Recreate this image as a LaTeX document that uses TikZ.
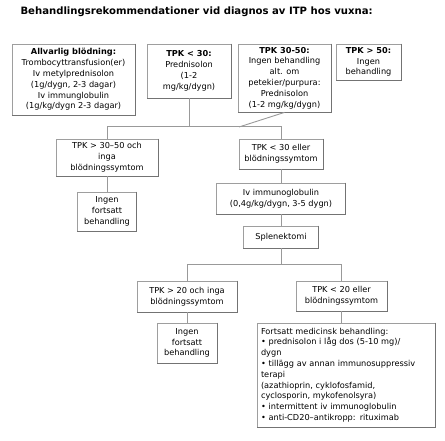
\documentclass[tikz,border=0pt]{standalone}
\usepackage{fontspec}
\setmainfont{DejaVu Sans}
\begin{document}
\begin{tikzpicture}[x=1pt,y=-1pt,
  bx/.style={draw=black!38, line width=0.8pt, fill=white, inner sep=0pt, align=center,
    font=\fontsize{8.2}{10.8}\selectfont},
  shad/.style={draw=black!55, line width=1.1pt},
  conn/.style={draw=black!40, line width=0.9pt}]
\useasboundingbox (0,0) rectangle (445,441);
\node[anchor=west, font=\fontsize{10.1}{12}\selectfont\bfseries] (title) at (17,12)
  {Behandlingsrekommendationer vid diagnos av ITP hos vuxna:};
% top row
\node[bx, minimum width=123pt, minimum height=71pt] (b1) at (73.5,79.5)
  {\textbf{Allvarlig blödning:}\\Trombocyttransfusion(er)\\Iv metylprednisolon\\(1g/dygn, 2-3 dagar)\\Iv immunglobulin\\(1g/kg/dygn 2-3 dagar)};
\node[bx, minimum width=84pt, minimum height=54pt] (b2) at (189,71)
  {\textbf{TPK < 30:}\\Prednisolon\\(1-2\\mg/kg/dygn)};
\node[bx, minimum width=93pt, minimum height=68pt] (b3) at (284.5,78)
  {\textbf{TPK 30-50:}\\Ingen behandling\\alt. om\\petekier/purpura:\\Prednisolon\\(1-2 mg/kg/dygn)};
\node[bx, minimum width=65pt, minimum height=36pt] (b4) at (368.5,62)
  {\textbf{TPK > 50:}\\Ingen\\behandling};
% second row
\node[bx, minimum width=102pt, minimum height=37pt] (c1) at (107,157.5)
  {TPK > 30–50 och\\inga\\blödningssymtom};
\node[bx, minimum width=59pt, minimum height=39pt] (c2) at (107,211.5)
  {Ingen\\fortsatt\\behandling};
\node[bx, minimum width=84pt, minimum height=30pt] (d1) at (281,154)
  {TPK < 30 eller\\blödningssymtom};
\node[bx, minimum width=129pt, minimum height=31pt] (d2) at (281,198.5)
  {Iv immunoglobulin\\(0,4g/kg/dygn, 3-5 dygn)};
\node[bx, minimum width=75pt, minimum height=22pt] (d3) at (281,237)
  {Splenektomi};
% lower rows
\node[bx, minimum width=100pt, minimum height=31pt] (e1) at (187,296.5)
  {TPK > 20 och inga\\blödningssymtom};
\node[bx, minimum width=91pt, minimum height=30pt] (e2) at (341.5,296)
  {TPK < 20 eller\\blödningssymtom};
\node[bx, minimum width=60pt, minimum height=40pt] (e3) at (187,343)
  {Ingen\\fortsatt\\behandling};
\node[bx, align=left, text width=170pt, inner xsep=4pt, minimum height=104pt] (f) at (346,375)
  {Fortsatt medicinsk behandling:\\• prednisolon i låg dos (5-10 mg)/\\dygn\\• tillägg av annan immunosuppressiv\\terapi\\(azathioprin, cyklofosfamid,\\cyclosporin, mykofenolsyra)\\• intermittent iv immunoglobulin\\• anti-CD20–antikropp: rituximab};
\foreach \n in {b1,b2,b3,b4,c1,c2,d1,d2,d3,e1,e2,e3,f}
  \draw[shad] (\n.north east) -- (\n.south east) -- (\n.south west);
% connectors
\coordinate (dj) at (239,127);
\draw[conn] (c1.north) -- ++(0,-12) -| (d1.north);
\draw[conn] (b2.south) -- (b2.south |- dj);
\draw[conn] (b3.south) -- (dj);
\draw[conn] (c1.south) -- (c2.north);
\draw[conn] (d1.south) -- (d2.north);
\draw[conn] (d2.south) -- (d3.north);
\draw[conn] (d3.south) -- (d3.south |- 0,265) coordinate (dl);
\draw[conn] (e1.north) -- ++(0,-16) -| (e2.north);
\draw[conn] (e1.south) -- (e3.north);
\draw[conn] (e2.south) -- (f.north -| e2.south);
\end{tikzpicture}
\end{document}
